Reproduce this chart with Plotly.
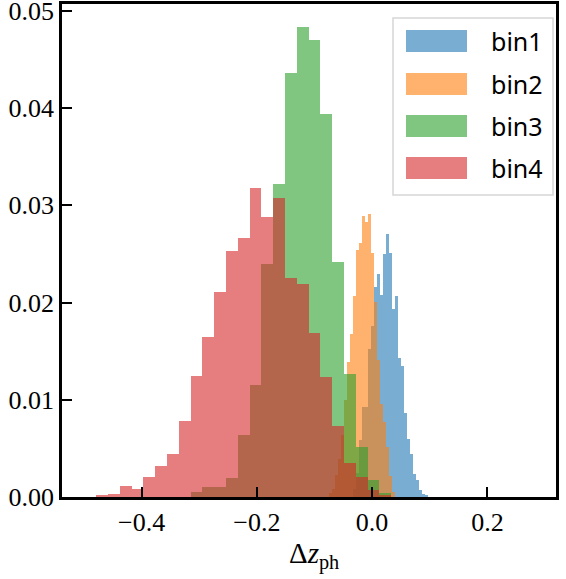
import plotly.graph_objects as go
import numpy as np

# ---------------- data ----------------
series_names = ["bin1", "bin2", "bin3", "bin4"]

bin1_start = -0.0330
bin1_width = 0.0052
bin1_heights = [0.0008, 0.0025, 0.0059, 0.0093, 0.0093, 0.0152, 0.0176, 0.0216,
                0.0229, 0.0208, 0.0250, 0.0270, 0.0251, 0.0193, 0.0207, 0.0143,
                0.0135, 0.0086, 0.0060, 0.0044, 0.0024, 0.0018, 0.0007, 0.0003,
                0.0002]

bin2_start = -0.0746
bin2_width = 0.0052
bin2_heights = [0.0004, 0.0008, 0.0023, 0.0039, 0.0064, 0.0100, 0.0139, 0.0168,
                0.0207, 0.0254, 0.0261, 0.0289, 0.0283, 0.0291, 0.0251, 0.0201,
                0.0141, 0.0096, 0.0077, 0.0051, 0.0022, 0.0005]

bin3_start = -0.3150
bin3_width = 0.02047
bin3_heights = [0.0005, 0.0010, 0.0010, 0.0020, 0.0064, 0.0115, 0.0240, 0.0322,
                0.0436, 0.0483, 0.0470, 0.0394, 0.0242, 0.0127, 0.0051, 0.0018,
                0.0004]

bin4_start = -0.4788
bin4_width = 0.02047
bin4_heights = [0.00017, 0.0003, 0.0011, 0.0008, 0.0021, 0.0032, 0.0044, 0.0078,
                0.0124, 0.0165, 0.0211, 0.0253, 0.0266, 0.0318, 0.0288, 0.0307,
                0.0225, 0.0219, 0.0169, 0.0123, 0.0073, 0.0035, 0.0021, 0.0007,
                0.0002]

x_ticks = [-0.4, -0.2, 0.0, 0.2]
y_ticks = [0.00, 0.01, 0.02, 0.03, 0.04, 0.05]
x_label = "Δ<i>z</i><sub>ph</sub>"

# ---------------- styling ----------------
colors = ["rgba(31,119,180,0.6)", "rgba(255,127,14,0.6)",
          "rgba(44,160,44,0.6)", "rgba(214,39,40,0.6)"]
SERIF = "Liberation Serif, DejaVu Serif, Times New Roman, serif"
SANS = "Noto Sans, DejaVu Sans, sans-serif"

W, H = 566, 579
ML, MR, MT, MB = 62, 10, 4, 82
PW, PH = W - ML - MR, H - MT - MB

series = [(bin1_start, bin1_width, bin1_heights),
          (bin2_start, bin2_width, bin2_heights),
          (bin3_start, bin3_width, bin3_heights),
          (bin4_start, bin4_width, bin4_heights)]

fig = go.Figure()
for name, col, (s, w, h) in zip(series_names, colors, series):
    h = np.array(h)
    centers = s + w * (np.arange(len(h)) + 0.5)
    fig.add_trace(go.Bar(x=centers, y=h, width=w, name=name,
                         marker=dict(color=col, line=dict(width=0)),
                         showlegend=False))

def px(xp):
    return (xp - ML) / PW

def py(yp):
    return (MT + PH - yp) / PH

shapes = []
annotations = []
# legend frame
shapes.append(dict(type="rect", xref="paper", yref="paper", layer="above",
                   x0=px(393), x1=px(553), y0=py(195), y1=py(18),
                   line=dict(color="#d6d6d6", width=1.5),
                   fillcolor="rgba(255,255,255,0.8)"))
row_tops = [30, 73, 115, 157]
for name, col, yt in zip(series_names, colors, row_tops):
    shapes.append(dict(type="rect", xref="paper", yref="paper", layer="above",
                       x0=px(406), x1=px(467), y0=py(yt + 22), y1=py(yt),
                       line=dict(width=0), fillcolor=col))
    annotations.append(dict(xref="paper", yref="paper", x=px(489), y=py(yt + 11),
                            text=name, showarrow=False, xanchor="left",
                            yanchor="middle",
                            font=dict(family=SANS, size=25, color="black")))
# x-axis label
annotations.append(dict(xref="paper", yref="paper", x=px(314), y=py(555),
                        text=x_label, showarrow=False, xanchor="center",
                        yanchor="middle",
                        font=dict(family=SERIF, size=29, color="black")))

fig.update_layout(
    width=W, height=H,
    margin=dict(l=ML, r=MR, t=MT, b=MB, autoexpand=False),
    plot_bgcolor="white", paper_bgcolor="white",
    barmode="overlay", bargap=0,
    shapes=shapes, annotations=annotations,
    font=dict(family=SERIF, color="black"),
)
fig.update_xaxes(range=[-0.538, 0.319], tickvals=x_ticks, tickformat=".1f",
                 ticks="inside", ticklen=10, tickwidth=1.5, tickcolor="black",
                 showline=True, linewidth=2.5, linecolor="black", mirror=True,
                 showgrid=False, zeroline=False, automargin=False,
                 ticklabeloverflow="allow",
                 tickfont=dict(family=SERIF, size=26, color="black"))
fig.update_yaxes(range=[0, 0.0507], tickvals=y_ticks, tickformat=".2f",
                 ticks="inside", ticklen=10, tickwidth=1.5, tickcolor="black",
                 showline=True, linewidth=2.5, linecolor="black", mirror=True,
                 showgrid=False, zeroline=False, automargin=False,
                 ticklabeloverflow="allow",
                 tickfont=dict(family=SERIF, size=26, color="black"))

fig.write_html("out.html",
               config={"displayModeBar": False},
               post_script="document.body.style.margin='0px';"
                           "document.body.style.overflow='hidden';")
